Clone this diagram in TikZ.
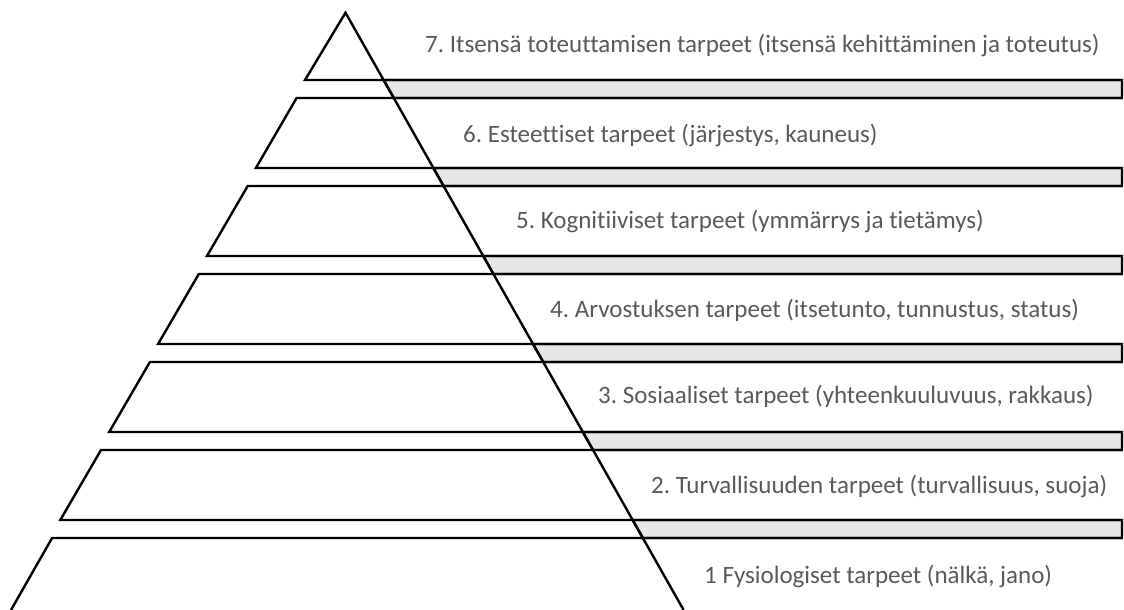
\documentclass[tikz,border=0pt]{standalone}
\usepackage{fontspec}
\setmainfont{Carlito}[Ligatures=NoCommon]
\frenchspacing
\definecolor{labelgray}{RGB}{89,89,89}
\definecolor{bargray}{RGB}{231,231,231}

\begin{document}
\begin{tikzpicture}[x=1pt, y=1pt,
  pyr/.style={line width=2.4pt, line join=miter},
  bar/.style={pyr, fill=bargray},
  level/.style={anchor=west, inner sep=0pt, text=labelgray, font=\fontsize{25}{29}\selectfont}]
\useasboundingbox (0,0) rectangle (1124,610);
% grey bars between the layers
\filldraw[bar] (383.6,530) -- (1122,530) -- (1122,512) -- (393.8,512) -- cycle;
\filldraw[bar] (433.4,442) -- (1122,442) -- (1122,424) -- (443.6,424) -- cycle;
\filldraw[bar] (483.2,354) -- (1122,354) -- (1122,336) -- (493.4,336) -- cycle;
\filldraw[bar] (533.0,266) -- (1122,266) -- (1122,248) -- (543.2,248) -- cycle;
\filldraw[bar] (582.8,178) -- (1122,178) -- (1122,160) -- (593.0,160) -- cycle;
\filldraw[bar] (632.6,90) -- (1122,90) -- (1122,72) -- (642.8,72) -- cycle;
% layers
\draw[pyr] (1122,530) -- (305,530) -- (345.5,597.3) -- (683.6,0);
\draw[pyr] (1122,512) -- (296.6,512) -- (255.9,442) -- (1122,442);
\draw[pyr] (1122,424) -- (247.7,424) -- (207.0,354) -- (1122,354);
\draw[pyr] (1122,336) -- (198.8,336) -- (158.1,266) -- (1122,266);
\draw[pyr] (1122,248) -- (149.9,248) -- (109.2,178) -- (1122,178);
\draw[pyr] (1122,160) -- (101.0,160) -- (60.3,90) -- (1122,90);
\draw[pyr] (1122,72) -- (52.1,72) -- (11,0);
% texts
\node[level] (need7) at (425,564.5) {7. Itsensä toteuttamisen tarpeet (itsensä kehittäminen ja toteutus)};
\node[level] (need6) at (463,474.5) {6. Esteettiset tarpeet (järjestys, kauneus)};
\node[level] (need5) at (516,388.3) {5. Kognitiiviset tarpeet (ymmärrys ja tietämys)};
\node[level] (need4) at (550,299.3) {4. Arvostuksen tarpeet (itsetunto, tunnustus, status)};
\node[level] (need3) at (598,213.3) {3. Sosiaaliset tarpeet (yhteenkuuluvuus, rakkaus)};
\node[level] (need2) at (651,123.3) {2. Turvallisuuden tarpeet (turvallisuus, suoja)};
\node[level] (need1) at (704,33.3) {1 Fysiologiset tarpeet (nälkä, jano)};
\end{tikzpicture}
\end{document}
